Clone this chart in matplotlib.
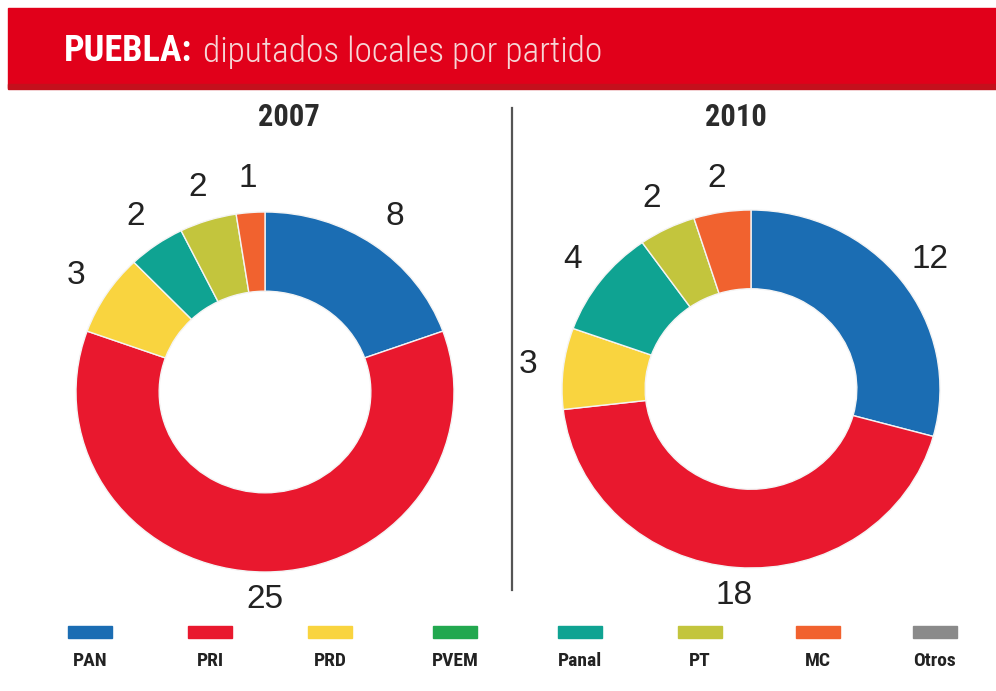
import numpy as np
import matplotlib.pyplot as plt
from matplotlib.patches import Rectangle

# ── Data ──────────────────────────────────────────────────────────────────────
PARTIES = ["PAN", "PRI", "PRD", "PVEM", "Panal", "PT", "MC", "Otros"]
COLORS = ["#1b6db3", "#e9182e", "#f9d43f", "#22a84f", "#0fa392", "#c3c53d", "#f1622f", "#8a8a8a"]

# seats, in drawing order (clockwise from top)
ORDER_2007 = ["PAN", "PRI", "PRD", "Panal", "PT", "MC"]
SEATS_2007 = [8, 25, 3, 2, 2, 1]
ORDER_2010 = ["PAN", "PRI", "PRD", "Panal", "PT", "MC"]
SEATS_2010 = [12, 18, 3, 4, 2, 2]

W, H = 996, 691
fig = plt.figure(figsize=(W / 100, H / 100), dpi=100)
fig.patch.set_facecolor("white")

bg = fig.add_axes([0, 0, 1, 1])
bg.set_xlim(0, W)
bg.set_ylim(H, 0)
bg.axis("off")

COND = ["Roboto Condensed", "DejaVu Sans"]
SANS = ["Liberation Sans", "DejaVu Sans"]

# ── Header band ───────────────────────────────────────────────────────────────
bg.add_patch(Rectangle((8, 8), W - 8, 80, color="#e1001a", zorder=1))
bg.add_patch(Rectangle((8, 84), W - 8, 5, color="#c4101c", zorder=1))
bg.text(64, 51, "PUEBLA:", family=COND, fontsize=26, fontweight="bold",
        color="white", va="center", ha="left")
bg.text(203, 52, "diputados locales por partido", family=COND, fontsize=25.5,
        fontweight=300, color="#f6d6d6", va="center", ha="left")

# ── Divider ───────────────────────────────────────────────────────────────────
bg.plot([512, 512], [108, 590], color="#555555", linewidth=1.6)


def donut(cx, cy, rx, ry, order, seats, year, title_x):
    # the source graphic is slightly stretched horizontally, so x and y
    # get separate pixel scales (axes box sized so unit radius = rx / ry px)
    k = 1.3
    ax = fig.add_axes([(cx - k * rx) / W, (H - cy - k * ry) / H,
                       2 * k * rx / W, 2 * k * ry / H])
    cols = [COLORS[PARTIES.index(p)] for p in order]
    wedges, _ = ax.pie(seats, colors=cols, startangle=90, counterclock=False,
                       radius=1, wedgeprops=dict(width=0.44, edgecolor="#f4f4f4",
                                                 linewidth=1))
    ax.set_xlim(-k, k)
    ax.set_ylim(-k, k)
    ax.set_aspect("auto")
    ax.axis("off")
    total = sum(seats)
    for w, v in zip(wedges, seats):
        mid = np.deg2rad((w.theta1 + w.theta2) / 2)
        d = 1.155 if v / total > 0.4 else 1.19
        ax.text(d * np.cos(mid), d * np.sin(mid), str(v), family=SANS,
                fontsize=24, color="#222222", ha="center", va="center", clip_on=False)
    bg.text(title_x, 117, year, family=COND, fontsize=22, fontweight="bold",
            color="#2b2b2b", ha="center", va="center")


donut(265, 392, 189, 180, ORDER_2007, SEATS_2007, "2007", 289)
donut(751, 389, 189, 179, ORDER_2010, SEATS_2010, "2010", 736)

# ── Legend ────────────────────────────────────────────────────────────────────
LEG_X = [90, 210, 330, 455, 580, 700, 818, 935]
for x, p, c in zip(LEG_X, PARTIES, COLORS):
    bg.add_patch(Rectangle((x - 22, 626), 44, 12, color=c))
    bg.text(x, 661, p, family=COND, fontsize=14, fontweight="bold",
            color="#222222", ha="center", va="center")

fig.savefig("out.png", dpi=100)
